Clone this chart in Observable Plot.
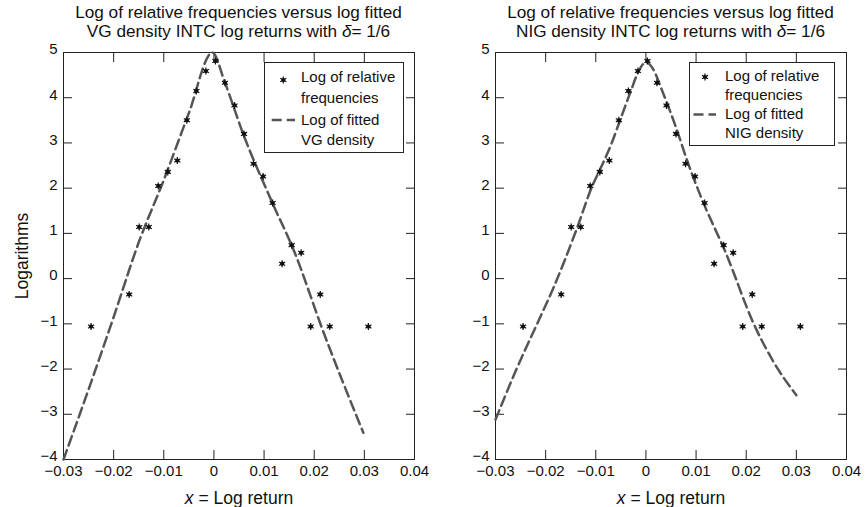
<!DOCTYPE html>
<html><head><meta charset="utf-8">
<script src="https://cdn.jsdelivr.net/npm/d3@7"></script>
<script src="https://cdn.jsdelivr.net/npm/@observablehq/plot@0.6"></script>
<style>
body{margin:0;background:#fff;}
#root{position:relative;width:865px;height:507px;font-family:"Liberation Sans",Arial,Helvetica,sans-serif;color:#111;overflow:hidden;background:#fff}
.panel{position:absolute;top:0;height:507px}
.panel svg{position:absolute;left:0;top:0}
.title{position:absolute;left:23px;width:431px;text-align:center;font-size:17.2px;line-height:17px;white-space:nowrap;z-index:2}
.legend{position:absolute;background:#fff;border:1px solid #222;box-sizing:border-box;font-size:15px;z-index:3}
.legend span{position:absolute;white-space:nowrap;line-height:20px}
.legend svg{position:absolute;left:0;top:0;overflow:visible}
</style></head><body><div id="root"></div>
<script>
// ---- data ----
const returnX = [-0.0245, -0.0169, -0.0149, -0.0130, -0.0111, -0.0092, -0.0073, -0.0054, -0.0035, -0.0016, 0.0003, 0.0022, 0.0041, 0.0060, 0.0079, 0.0098, 0.0117, 0.0136, 0.0155, 0.0174, 0.0193, 0.0212, 0.0231, 0.0308];
const logFreq = [-1.06, -0.35, 1.14, 1.14, 2.05, 2.36, 2.61, 3.50, 4.15, 4.59, 4.81, 4.33, 3.83, 3.20, 2.54, 2.26, 1.67, 0.33, 0.74, 0.57, -1.06, -0.35, -1.06, -1.06];

const vgX = [-0.030, -0.025, -0.020, -0.015, -0.010, -0.005, -0.0003, 0.0022, 0.0059, 0.0116, 0.0162, 0.0215, 0.0298];
const vgY = [-4.00, -2.45, -0.85, 0.80, 2.18, 3.66, 5.00, 4.33, 3.18, 1.69, 0.55, -1.08, -3.41];

const nigX = [-0.030, -0.026, -0.0217, -0.0185, -0.0138, -0.0107, -0.009, -0.007, -0.005, -0.003, -0.0015, 0, 0.0015, 0.003, 0.005, 0.0065, 0.008, 0.011, 0.016, 0.0215, 0.0255, 0.030];
const nigY = [-3.12, -2.05, -1.00, -0.22, 1.10, 2.05, 2.45, 2.95, 3.55, 4.15, 4.58, 4.78, 4.62, 4.22, 3.65, 3.18, 2.68, 1.80, 0.55, -1.00, -1.85, -2.58];

const xTicks = [-0.03, -0.02, -0.01, 0, 0.01, 0.02, 0.03, 0.04];
const yTicks = [-4, -3, -2, -1, 0, 1, 2, 3, 4, 5];

const titleLine1 = ["Log of relative frequencies versus log fitted", "Log of relative frequencies versus log fitted"];
const titleLine2 = ["VG density INTC log returns with", "NIG density INTC log returns with"];
const deltaValue = "1/6";
const legendLabels = [
  ["Log of relative", "frequencies", "Log of fitted", "VG density"],
  ["Log of relative", "frequencies", "Log of fitted", "NIG density"]
];
const xLabel = "Log return";
const yLabel = "Logarithms";

// ---- build ----
const fmt = d => String(d).replace("-", "\u2212");
const freqData = returnX.map((x, i) => ({x, y: logFreq[i]}));
const root = document.getElementById("root");

function makePlot(cx, cy, width, marginRight, showYLabel) {
  const curve = cx.map((x, i) => ({x, y: cy[i]}));
  const svg = Plot.plot({
    width, height: 507,
    marginTop: 52, marginBottom: 48, marginLeft: 63, marginRight,
    style: {fontFamily: '"Liberation Sans", Arial, Helvetica, sans-serif', fontSize: "15px", color: "#111", background: "transparent", overflow: "visible"},
    x: {domain: [-0.03, 0.04]},
    y: {domain: [-4, 5]},
    marks: [
      Plot.axisX(xTicks, {anchor: "bottom", tickSize: 0, tickPadding: 6, tickFormat: fmt, label: "x = " + xLabel, labelAnchor: "center", labelArrow: "none", labelOffset: 44}),
      Plot.axisX(xTicks, {anchor: "bottom", tickSize: 9, dy: -9, fill: "none", label: null, stroke: "#222"}),
      Plot.axisX(xTicks, {anchor: "top", tickSize: 9, dy: 9, fill: "none", label: null, stroke: "#222"}),
      Plot.axisY(yTicks, {anchor: "left", tickSize: 0, tickPadding: 6, dy: -3, tickFormat: fmt, label: showYLabel ? yLabel : null, labelAnchor: "center", labelArrow: "none", labelOffset: 48}),
      Plot.axisY(yTicks, {anchor: "left", tickSize: 9, dx: 9, fill: "none", label: null, stroke: "#222"}),
      Plot.axisY(yTicks, {anchor: "right", tickSize: 9, dx: -9, fill: "none", label: null, stroke: "#222"}),
      Plot.frame({stroke: "#222", strokeWidth: 1}),
      Plot.line(curve, {x: "x", y: "y", stroke: "#555", strokeWidth: 2.5, strokeDasharray: "10,5", curve: "monotone-x"}),
      Plot.dot(freqData, {x: "x", y: "y", r: 2.1, fill: "#111"}),
      Plot.dot(freqData, {x: "x", y: "y", r: 3.3, symbol: "asterisk", stroke: "#111", strokeWidth: 1.2})
    ]
  });
  // axis-label sizes and the italic x
  const xl = svg.querySelector('g[aria-label="x-axis label"] text');
  if (xl) {
    const t = d3.select(xl);
    t.text("").style("font-size", "17.5px");
    t.append("tspan").attr("font-style", "italic").text("x");
    t.append("tspan").text(" = " + xLabel);
  }
  const yl = svg.querySelector('g[aria-label="y-axis label"] text');
  if (yl) yl.style.fontSize = "17.5px";
  return svg;
}

const panels = [
  {left: 0, width: 432, mr: 18, cx: vgX, cy: vgY, ylab: true,
   legend: {left: 264, top: 62, w: 140, h: 91, textLeft: 36, centers: [14, 34.6, 56.6, 76.6], mx: 18.3, my: 17, dx1: 6.7, dx2: 30, dy: 57}},
  {left: 432, width: 433, mr: 19, cx: nigX, cy: nigY, ylab: false,
   legend: {left: 257, top: 62, w: 146, h: 84, textLeft: 35, centers: [12.5, 32, 51, 70.3], mx: 15, my: 14, dx1: 3.5, dx2: 26, dy: 51.5}}
];

panels.forEach((p, k) => {
  const div = document.createElement("div");
  div.className = "panel";
  div.style.left = p.left + "px";
  div.style.width = p.width + "px";
  div.appendChild(makePlot(p.cx, p.cy, p.width, p.mr, p.ylab));

  // two title lines as separate blocks
  const t1 = document.createElement("div");
  t1.className = "title";
  t1.style.top = "3.5px";
  t1.textContent = titleLine1[k];
  div.appendChild(t1);
  const t2 = document.createElement("div");
  t2.className = "title";
  t2.style.top = "22.8px";
  t2.innerHTML = titleLine2[k] + " <i>\u03B4</i>= " + deltaValue;
  div.appendChild(t2);

  const L = p.legend;
  const lg = document.createElement("div");
  lg.className = "legend";
  Object.assign(lg.style, {left: L.left + "px", top: L.top + "px", width: L.w + "px", height: L.h + "px"});
  legendLabels[k].forEach((s, i) => {
    const sp = document.createElement("span");
    sp.textContent = s;
    sp.style.left = L.textLeft + "px";
    sp.style.top = (L.centers[i] - 10) + "px";
    lg.appendChild(sp);
  });
  const ls = d3.create("svg").attr("width", L.w).attr("height", L.h);
  ls.append("circle").attr("cx", L.mx).attr("cy", L.my).attr("r", 2.1).attr("fill", "#111");
  ls.append("path").attr("transform", `translate(${L.mx},${L.my})`)
    .attr("d", d3.symbol(d3.symbolAsterisk, 3.3 * 3.3 * Math.PI)())
    .attr("stroke", "#111").attr("stroke-width", 1.2).attr("fill", "none");
  ls.append("line").attr("x1", L.dx1).attr("x2", L.dx2).attr("y1", L.dy).attr("y2", L.dy)
    .attr("stroke", "#555").attr("stroke-width", 2.5).attr("stroke-dasharray", "10,5");
  lg.appendChild(ls.node());
  div.appendChild(lg);

  root.appendChild(div);
});
</script></body></html>
